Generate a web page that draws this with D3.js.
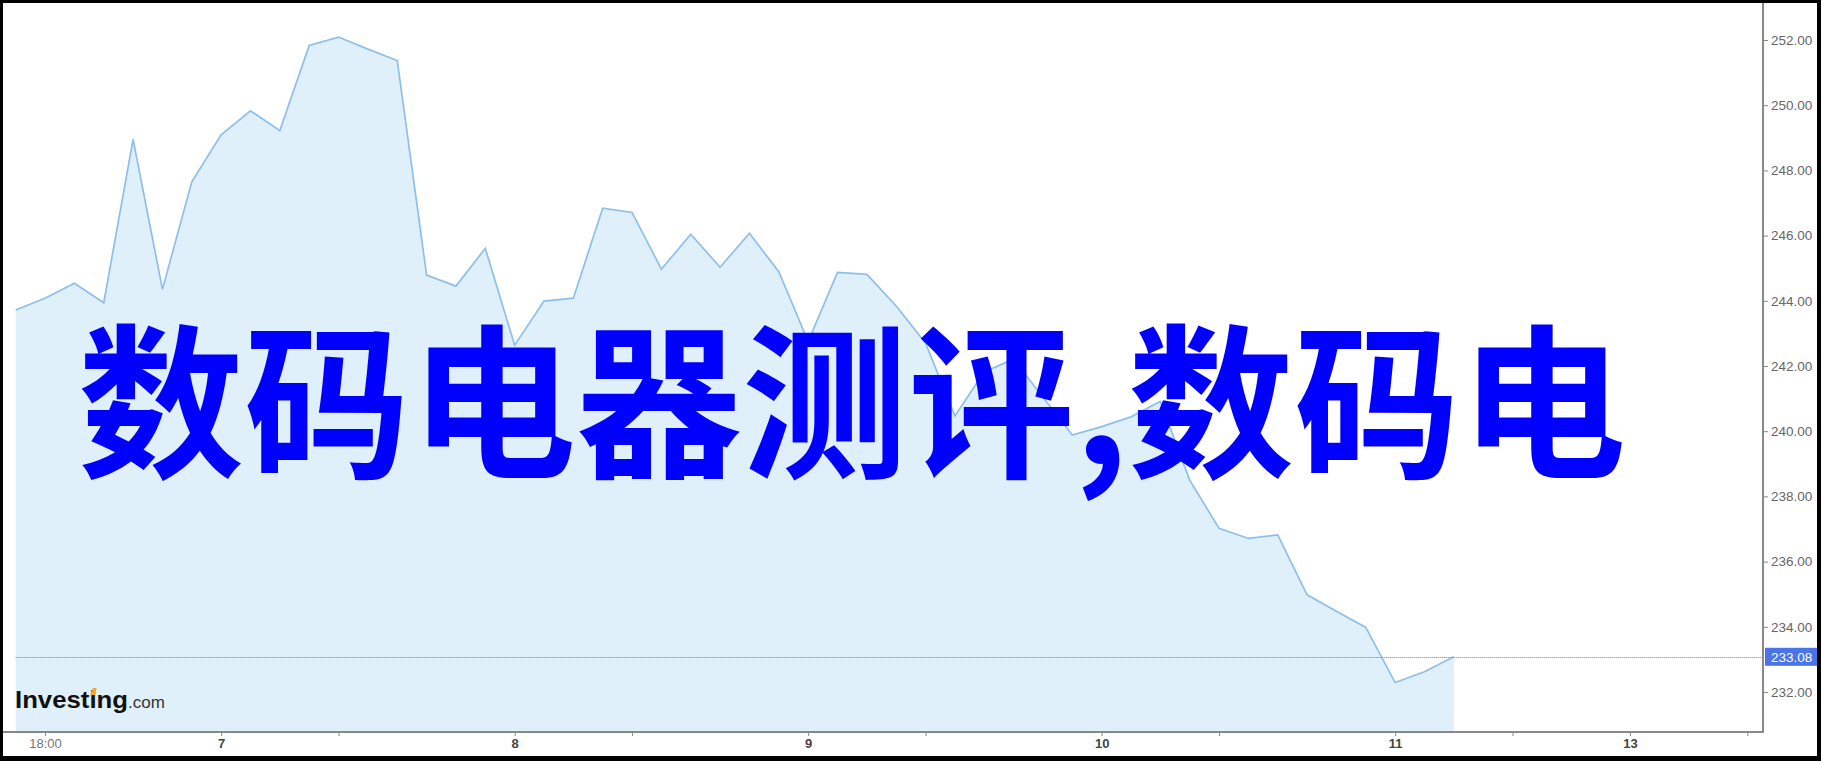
<!DOCTYPE html>
<html>
<head>
<meta charset="utf-8">
<script src="https://cdn.jsdelivr.net/npm/d3@7"></script>
<style>
  html, body { margin: 0; padding: 0; background: #000; }
  svg { display: block; }
</style>
</head>
<body>
<svg id="chart" width="1821" height="761"></svg>
<script>
// ---- data ----
const values = [
  243.72, 244.08, 244.54, 243.94, 248.95, 244.35, 247.65, 249.09, 249.83, 249.22,
  251.83, 252.09, 251.72, 251.37, 244.79, 244.45, 245.61, 242.64, 243.99, 244.08,
  246.84, 246.71, 244.97, 246.04, 245.03, 246.07, 244.89, 242.75, 244.87, 244.81,
  243.84, 242.70, 240.47, 241.82, 242.21, 241.04, 239.88, 240.14, 240.44, 240.91,
  238.50, 237.02, 236.71, 236.82, 234.98, 234.48, 233.98, 232.29, 232.62, 233.08
];
const xTickIndex  = [1, 7, 11, 17, 21, 27, 31, 37, 41, 47, 51, 55, 59];
const xTickLabels = ["18:00", "7", "", "8", "", "9", "", "10", "", "11", "", "13", ""];
const yTickValues = [232, 234, 236, 238, 240, 242, 244, 246, 248, 250, 252];
const lastValue = 233.08;
const titleText = "数码电器测评,数码电";

// ---- layout ----
const svg = d3.select("#chart");
const W = 1821, H = 761;
const plotLeft = 15.7, plotRight = 1763, plotBottom = 732, plotTop = 3;

const x = d3.scaleLinear().domain([0, 59.5]).range([plotLeft, plotRight - 1]);
const y = d3.scaleLinear().domain([232, 252]).range([692, 40]);

// frame
svg.append("rect").attr("x", 0).attr("y", 0).attr("width", W).attr("height", H).attr("fill", "#000");
svg.append("rect").attr("x", 3).attr("y", 3).attr("width", 1814).attr("height", 753).attr("fill", "#fff");

// area + line
const area = d3.area().x((d, i) => x(i)).y0(plotBottom).y1(d => y(d));
const line = d3.line().x((d, i) => x(i)).y(d => y(d));
svg.append("path").datum(values).attr("d", area).attr("fill", "#e0f0fa");
svg.append("path").datum(values).attr("d", line)
  .attr("fill", "none").attr("stroke", "#8dbfec").attr("stroke-width", 1.7)
  .attr("stroke-linejoin", "miter");

// last value dotted line
svg.append("line")
  .attr("x1", plotLeft).attr("x2", plotRight)
  .attr("y1", Math.round(y(lastValue)) + 0.5).attr("y2", Math.round(y(lastValue)) + 0.5)
  .attr("stroke", "#4f7fe0").attr("stroke-width", 1).attr("stroke-dasharray", "1,1");

// y axis
const yAxis = d3.axisRight(y).tickValues(yTickValues).tickFormat(d3.format(".2f")).tickSize(5).tickPadding(3);
const gy = svg.append("g").attr("transform", `translate(${plotRight},0)`).call(yAxis);
gy.select(".domain").remove();
gy.selectAll(".tick line").attr("stroke", "#888");
gy.selectAll(".tick text").attr("fill", "#666").style("font-family", "'Liberation Sans', Arial, sans-serif").style("font-size", "13.5px");

// x axis
const xAxis = d3.axisBottom(x).tickValues(xTickIndex).tickFormat((d, i) => xTickLabels[i]).tickSize(4).tickPadding(3);
const gx = svg.append("g").attr("transform", `translate(0,${plotBottom})`).call(xAxis);
gx.select(".domain").remove();
gx.selectAll(".tick line").attr("stroke", "#888");
gx.selectAll(".tick text")
  .style("font-family", "'Liberation Sans', Arial, sans-serif").style("font-size", "13px")
  .attr("fill", (d, i) => i === 0 ? "#777" : "#444")
  .style("font-weight", (d, i) => i === 0 ? "normal" : "bold");

// axis lines
svg.append("line").attr("x1", 3).attr("x2", plotRight + 1).attr("y1", plotBottom).attr("y2", plotBottom)
  .attr("stroke", "#888").attr("stroke-width", 2);
svg.append("line").attr("x1", plotRight).attr("x2", plotRight).attr("y1", plotTop).attr("y2", plotBottom)
  .attr("stroke", "#888").attr("stroke-width", 2);

// last value label
const ly = y(lastValue);
svg.append("rect").attr("x", plotRight + 2).attr("y", ly - 9).attr("width", 1817 - plotRight - 2).attr("height", 18).attr("fill", "#4a74e8");
svg.append("text").attr("x", plotRight + 8).attr("y", ly + 5)
  .attr("fill", "#fff").style("font-family", "'Liberation Sans', Arial, sans-serif").style("font-size", "13.5px")
  .text(d3.format(".2f")(lastValue));

// logo
const logo = svg.append("text").attr("x", 15).attr("y", 708)
  .style("font-family", "'Liberation Sans', Arial, sans-serif");
logo.append("tspan").attr("fill", "#111").style("font-size", "24px").style("font-weight", "bold")
  .attr("textLength", 113).attr("lengthAdjust", "spacingAndGlyphs").text("Investing");
logo.append("tspan").attr("fill", "#333").style("font-size", "17px").text(".com");
// orange dot on the second "i"
try {
  const ext = logo.node().getExtentOfChar(6);
  svg.append("path")
    .attr("d", `M${ext.x + ext.width * 0.1},${ext.y + 9} L${ext.x + ext.width * 0.5},${ext.y + 2} L${ext.x + ext.width * 1.0},${ext.y + 2} L${ext.x + ext.width * 0.85},${ext.y + 9} Z`)
    .attr("fill", "#f5a623");
} catch (e) {}

// big title
svg.append("text").attr("x", 78).attr("y", 465)
  .attr("fill", "#0000ff")
  .style("font-family", "'Noto Sans CJK SC', sans-serif").style("font-weight", "bold").style("font-size", "166px")
  .text(titleText);
</script>
</body>
</html>
